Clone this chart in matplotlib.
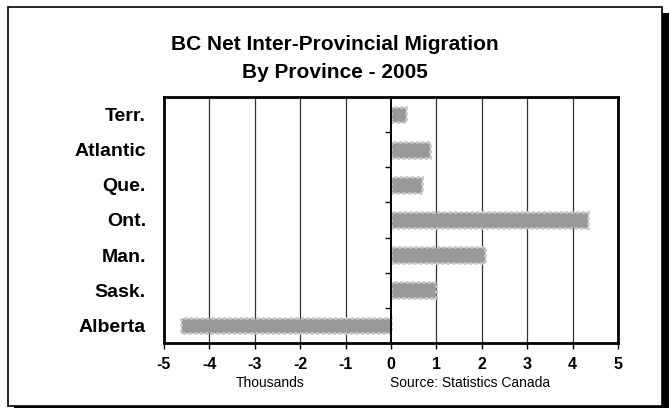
import numpy as np
import matplotlib
matplotlib.use("Agg")
import matplotlib.pyplot as plt
from matplotlib.patches import Rectangle

# ---------- DATA ----------
provinces = ["Alberta", "Sask.", "Man.", "Ont.", "Que.", "Atlantic", "Terr."]
net_migration = [-4.63, 1.0, 2.07, 4.35, 0.68, 0.85, 0.32]   # thousands
x_ticks = [-5, -4, -3, -2, -1, 0, 1, 2, 3, 4, 5]
# --------------------------

plt.rcParams["font.family"] = ["Liberation Sans", "DejaVu Sans"]

fig = plt.figure(figsize=(6.7, 4.08), dpi=100)

# outer frame with drop shadow
fig.patches.append(Rectangle((14 / 670, 0.0), 655 / 670, 1 - 13 / 408,
                             transform=fig.transFigure, facecolor="black",
                             edgecolor="none", zorder=0))
fig.patches.append(Rectangle((8 / 670, 2 / 408), 654 / 670, 1 - 9 / 408,
                             transform=fig.transFigure, facecolor="white",
                             edgecolor="black", linewidth=1.2, zorder=1))

ax = fig.add_axes([164 / 670, 1 - 343 / 408, 454 / 670, 246 / 408])
ax.set_zorder(2)

y = np.arange(len(provinces))
ax.barh(y, net_migration, height=0.45, color="#999999",
        edgecolor="#c8c8c8", linewidth=2.0, linestyle=(0, (1, 1)), zorder=3)

ax.set_xlim(-5, 5)
ax.set_ylim(-0.5, len(provinces) - 0.5)

# vertical gridlines, zero line a bit heavier
for v in x_ticks[1:-1]:
    ax.axvline(v, color="black" if v == 0 else "#333333",
               linewidth=1.4 if v == 0 else 0.9, zorder=2 if v else 4)

# category boundary ticks on the zero line
bounds = np.arange(len(provinces) - 1) + 0.5
ax.hlines(bounds, -0.13, 0, color="black", linewidth=1.0, zorder=4)

ax.set_xticks(x_ticks)
ax.set_xticklabels([str(t) for t in x_ticks], fontsize=11.5, fontweight="bold")
ax.tick_params(axis="x", direction="out", length=4, width=1, pad=6)

ax.set_yticks(y)
ax.set_yticklabels(provinces, fontsize=14, fontweight="bold")
ax.tick_params(axis="y", length=0, pad=13)

for s in ax.spines.values():
    s.set_linewidth(2.0)

fig.text(335 / 670, 1 - 45 / 408, "BC Net Inter-Provincial Migration",
         ha="center", va="center", fontsize=15, fontweight="bold", zorder=3)
fig.text(335 / 670, 1 - 72 / 408, "By Province - 2005",
         ha="center", va="center", fontsize=15, fontweight="bold", zorder=3)

fig.text(270 / 670, 1 - 383 / 408, "Thousands", ha="center", va="center",
         fontsize=10, zorder=3)
fig.text(470 / 670, 1 - 383 / 408, "Source: Statistics Canada", ha="center",
         va="center", fontsize=10, zorder=3)

fig.savefig("out.png", dpi=100)
